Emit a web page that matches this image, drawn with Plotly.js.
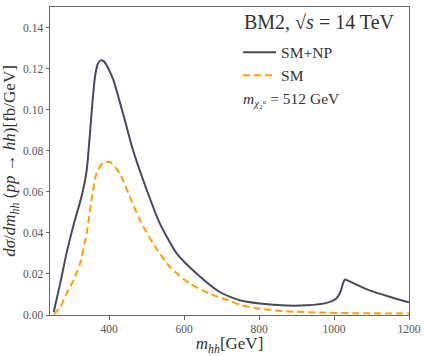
<!DOCTYPE html>
<html>
<head>
<meta charset="utf-8">
<script src="https://cdn.plot.ly/plotly-3.0.1.min.js"></script>
<style>
  html, body { margin: 0; padding: 0; background: #fff; }
  #chart { width: 427px; height: 356px; }
</style>
</head>
<body>
<div id="chart"></div>
<script>
// m_hh values [GeV] and dsigma/dm_hh [fb/GeV]
const massNP = [252, 270, 286, 305, 326, 340, 348, 355, 362, 370, 378, 386, 395, 411, 437, 464, 500, 535, 580, 633, 695, 748, 802, 873, 926, 980, 1006, 1017, 1024, 1029, 1040, 1095, 1150, 1200];
const xsecNP = [0.0015, 0.016, 0.030, 0.044, 0.0576, 0.0706, 0.087, 0.103, 0.116, 0.1225, 0.124, 0.1235, 0.121, 0.1145, 0.098, 0.080, 0.061, 0.0446, 0.030, 0.0202, 0.0112, 0.0072, 0.0056, 0.0046, 0.0047, 0.0059, 0.0080, 0.0112, 0.0155, 0.0173, 0.0165, 0.0120, 0.0088, 0.0062];

const massSM = [252, 270, 286, 305, 322, 340, 353, 366, 384, 402, 428, 455, 482, 517, 562, 615, 668, 722, 748, 802, 873, 962, 1050, 1200];
const xsecSM = [0.0003, 0.004, 0.0104, 0.017, 0.025, 0.040, 0.056, 0.069, 0.0742, 0.0745, 0.069, 0.0576, 0.0462, 0.0348, 0.0234, 0.0153, 0.0104, 0.0068, 0.0050, 0.0030, 0.0018, 0.0012, 0.0009, 0.0007];

const xTicks = [400, 600, 800, 1000, 1200];
const yTicks = [0, 0.02, 0.04, 0.06, 0.08, 0.10, 0.12, 0.14];

const serif = '"Liberation Serif", serif';

const npTrace = {
    x: massNP,
    y: xsecNP,
    type: 'scatter',
    mode: 'lines',
    name: 'SM+NP',
    line: { width: 2, color: '#474a5c', shape: 'spline', smoothing: 0.6 }
};

const smTrace = {
    x: massSM,
    y: xsecSM,
    type: 'scatter',
    mode: 'lines',
    name: 'SM',
    line: { width: 2, dash: '7px,4px', color: '#ffa000', shape: 'spline', smoothing: 0.6 }
};

const axisStyle = {
    showgrid: false,
    zeroline: false,
    showline: true,
    mirror: true,
    linecolor: '#666',
    linewidth: 1,
    ticks: 'outside',
    ticklen: 3.5,
    tickcolor: '#666',
    tickfont: { family: serif, size: 11.5, color: '#555' }
};

const layout = {
    width: 427,
    height: 356,
    margin: { l: 50, r: 18, t: 7, b: 41 },
    paper_bgcolor: '#fff',
    plot_bgcolor: '#fff',
    font: { family: serif, color: '#333' },
    xaxis: Object.assign({}, axisStyle, {
        range: [242, 1200],
        tickvals: xTicks,
        ticktext: xTicks.map(String),
        title: { text: '<i>m</i><sub><i>hh</i></sub>[GeV]', font: { family: serif, size: 17, color: '#333' }, standoff: 3 }
    }),
    yaxis: Object.assign({}, axisStyle, {
        range: [0, 0.15],
        tickvals: yTicks,
        ticktext: yTicks.map(v => v.toFixed(2)),
        title: { text: '<i>dσ</i>/<i>dm</i><sub><i>hh</i></sub> (<i>pp</i> → <i>hh</i>)[fb/GeV]', font: { family: serif, size: 17, color: '#333' }, standoff: 4 }
    }),
    showlegend: true,
    legend: {
        x: 0.524,
        y: 0.907,
        xanchor: 'left',
        yanchor: 'top',
        bgcolor: 'rgba(0,0,0,0)',
        borderwidth: 0,
        font: { family: serif, size: 15.5, color: '#333' },
        itemwidth: 33
    },
    annotations: [{
        xref: 'paper', yref: 'paper',
        x: 0.535, y: 0.951,
        xanchor: 'left', yanchor: 'middle',
        showarrow: false,
        text: 'BM2, √<i>s</i> = 14 TeV',
        font: { family: serif, size: 20, color: '#333' }
    }, {
        xref: 'paper', yref: 'paper',
        x: 0.533, y: 0.70,
        xanchor: 'left', yanchor: 'middle',
        showarrow: false,
        text: '<i>m</i><sub><i>χ</i>₂ᵘ</sub> = 512 GeV',
        font: { family: serif, size: 15.5, color: '#333' }
    }]
};

Plotly.newPlot('chart', [npTrace, smTrace], layout, { staticPlot: true });
</script>
</body>
</html>
